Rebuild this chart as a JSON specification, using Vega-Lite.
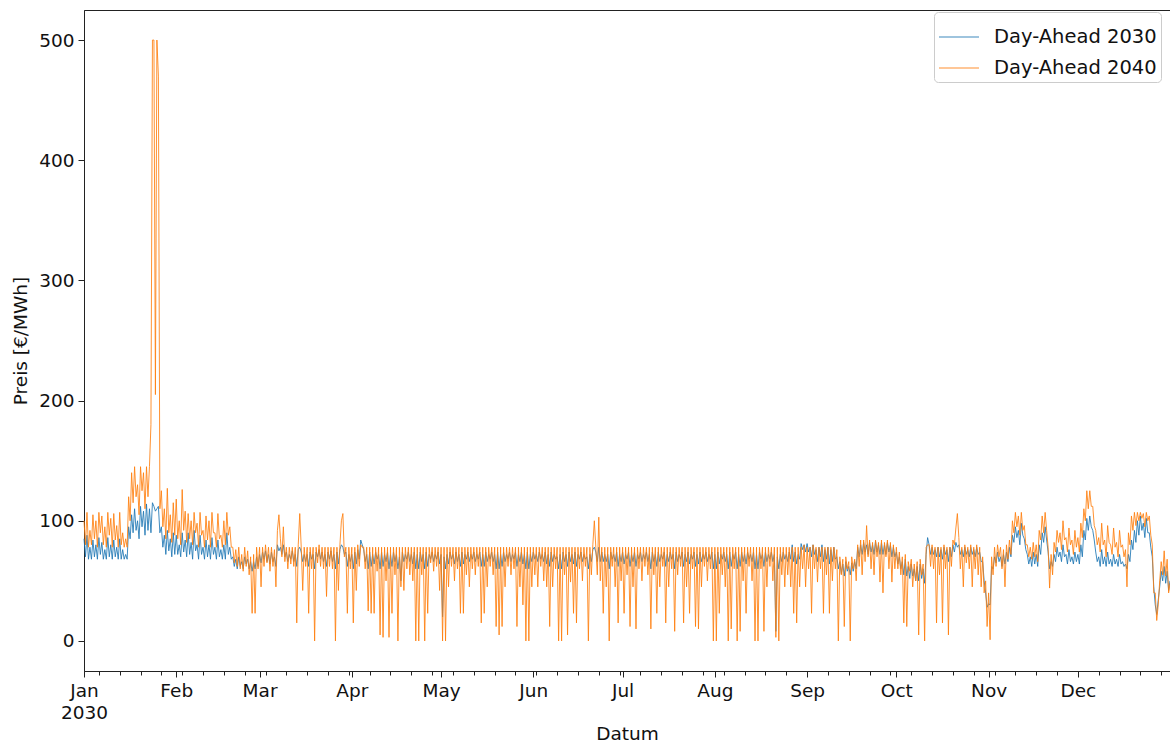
{
"$schema":"https://vega.github.io/schema/vega-lite/v6.json",
"width":1086,"height":661,"autosize":"none",
"padding":{"left":84,"top":10,"right":0,"bottom":74},
"background":"white",
"config":{"view":{"stroke":"#222","strokeWidth":1},"font":"DejaVu Sans",
"axis":{"labelFont":"DejaVu Sans","titleFont":"DejaVu Sans","labelFontSize":18.5,"titleFontSize":18.5,"titleFontWeight":"normal","labelColor":"#111","titleColor":"#111","domainColor":"#222","tickColor":"#222","tickSize":6,"grid":false}},
"data":{"format":{"parse":{"t":"date:'%Y-%m-%d %H'"}},"values":[
{"t":"2030-01-01 00","a":85,"b":100},{"t":"2030-01-01 12","a":70,"b":80},
{"t":"2030-01-02 00","a":88,"b":107},{"t":"2030-01-02 12","a":68,"b":78},
{"t":"2030-01-03 00","a":78,"b":92},{"t":"2030-01-03 12","a":68,"b":80},
{"t":"2030-01-04 00","a":84,"b":105},{"t":"2030-01-04 12","a":70,"b":85},
{"t":"2030-01-05 00","a":80,"b":100},{"t":"2030-01-05 12","a":68,"b":78},
{"t":"2030-01-06 00","a":86,"b":107},{"t":"2030-01-06 12","a":72,"b":90},
{"t":"2030-01-07 00","a":82,"b":104},{"t":"2030-01-07 12","a":68,"b":80},
{"t":"2030-01-08 00","a":76,"b":95},{"t":"2030-01-08 12","a":68,"b":78},
{"t":"2030-01-09 00","a":86,"b":107},{"t":"2030-01-09 12","a":70,"b":88},
{"t":"2030-01-10 00","a":80,"b":102},{"t":"2030-01-10 12","a":68,"b":78},
{"t":"2030-01-11 00","a":84,"b":106},{"t":"2030-01-11 12","a":70,"b":84},
{"t":"2030-01-12 00","a":78,"b":96},{"t":"2030-01-12 12","a":68,"b":78},
{"t":"2030-01-13 00","a":85,"b":107},{"t":"2030-01-13 12","a":68,"b":80},
{"t":"2030-01-14 00","a":76,"b":90},{"t":"2030-01-14 12","a":68,"b":78},
{"t":"2030-01-15 00","a":72,"b":85},{"t":"2030-01-15 12","a":68,"b":78},
{"t":"2030-01-16 00","a":95,"b":120},{"t":"2030-01-16 12","a":85,"b":100},
{"t":"2030-01-17 00","a":105,"b":140},{"t":"2030-01-17 12","a":90,"b":115},
{"t":"2030-01-18 00","a":110,"b":145},{"t":"2030-01-18 12","a":92,"b":120},
{"t":"2030-01-19 00","a":100,"b":130},{"t":"2030-01-19 12","a":85,"b":105},
{"t":"2030-01-20 00","a":112,"b":145},{"t":"2030-01-20 12","a":95,"b":125},
{"t":"2030-01-21 00","a":108,"b":140},{"t":"2030-01-21 12","a":88,"b":110},
{"t":"2030-01-22 00","a":114,"b":145},{"t":"2030-01-22 12","a":92,"b":120},
{"t":"2030-01-23 00","a":110,"b":145},{"t":"2030-01-23 12","a":90,"b":180},
{"t":"2030-01-24 00","a":115,"b":500},{"t":"2030-01-24 12","a":112,"b":500},
{"t":"2030-01-25 00","a":108,"b":205},{"t":"2030-01-25 12","a":110,"b":500},
{"t":"2030-01-26 00","a":112,"b":470},{"t":"2030-01-26 12","a":90,"b":110},
{"t":"2030-01-27 00","a":95,"b":125},{"t":"2030-01-27 12","a":78,"b":95},
{"t":"2030-01-28 00","a":88,"b":110},{"t":"2030-01-28 12","a":72,"b":85},
{"t":"2030-01-29 00","a":92,"b":127},{"t":"2030-01-29 12","a":75,"b":90},
{"t":"2030-01-30 00","a":85,"b":105},{"t":"2030-01-30 12","a":70,"b":82},
{"t":"2030-01-31 00","a":90,"b":115},{"t":"2030-01-31 12","a":72,"b":88},
{"t":"2030-02-01 00","a":88,"b":118},{"t":"2030-02-01 12","a":72,"b":85},
{"t":"2030-02-02 00","a":80,"b":100},{"t":"2030-02-02 12","a":70,"b":80},
{"t":"2030-02-03 00","a":90,"b":126},{"t":"2030-02-03 12","a":74,"b":92},
{"t":"2030-02-04 00","a":84,"b":108},{"t":"2030-02-04 12","a":70,"b":82},
{"t":"2030-02-05 00","a":90,"b":106},{"t":"2030-02-05 12","a":72,"b":85},
{"t":"2030-02-06 00","a":82,"b":100},{"t":"2030-02-06 12","a":68,"b":80},
{"t":"2030-02-07 00","a":92,"b":107},{"t":"2030-02-07 12","a":75,"b":90},
{"t":"2030-02-08 00","a":80,"b":98},{"t":"2030-02-08 12","a":68,"b":78},
{"t":"2030-02-09 00","a":88,"b":107},{"t":"2030-02-09 12","a":72,"b":88},
{"t":"2030-02-10 00","a":78,"b":92},{"t":"2030-02-10 12","a":68,"b":78},
{"t":"2030-02-11 00","a":84,"b":104},{"t":"2030-02-11 12","a":70,"b":84},
{"t":"2030-02-12 00","a":80,"b":100},{"t":"2030-02-12 12","a":68,"b":78},
{"t":"2030-02-13 00","a":86,"b":107},{"t":"2030-02-13 12","a":72,"b":90},
{"t":"2030-02-14 00","a":78,"b":90},{"t":"2030-02-14 12","a":68,"b":78},
{"t":"2030-02-15 00","a":84,"b":106},{"t":"2030-02-15 12","a":70,"b":85},
{"t":"2030-02-16 00","a":76,"b":88},{"t":"2030-02-16 12","a":68,"b":78},
{"t":"2030-02-17 00","a":80,"b":100},{"t":"2030-02-17 12","a":68,"b":80},
{"t":"2030-02-18 00","a":90,"b":107},{"t":"2030-02-18 12","a":72,"b":88},
{"t":"2030-02-19 00","a":78,"b":95},{"t":"2030-02-19 12","a":68,"b":78},
{"t":"2030-02-20 00","a":70,"b":78},{"t":"2030-02-20 12","a":62,"b":65},
{"t":"2030-02-21 00","a":68,"b":76},{"t":"2030-02-21 12","a":60,"b":62},
{"t":"2030-02-22 00","a":70,"b":78},{"t":"2030-02-22 12","a":62,"b":60},
{"t":"2030-02-23 00","a":66,"b":72},{"t":"2030-02-23 12","a":60,"b":58},
{"t":"2030-02-24 00","a":70,"b":78},{"t":"2030-02-24 12","a":64,"b":62},
{"t":"2030-02-25 00","a":68,"b":75},{"t":"2030-02-25 12","a":60,"b":55},
{"t":"2030-02-26 00","a":66,"b":70},{"t":"2030-02-26 12","a":58,"b":23},
{"t":"2030-02-27 00","a":66,"b":72},{"t":"2030-02-27 12","a":60,"b":23},
{"t":"2030-02-28 00","a":70,"b":78},{"t":"2030-02-28 12","a":62,"b":60},
{"t":"2030-03-01 00","a":72,"b":78},{"t":"2030-03-01 12","a":65,"b":45},
{"t":"2030-03-02 00","a":74,"b":78},{"t":"2030-03-02 12","a":68,"b":62},
{"t":"2030-03-03 00","a":75,"b":80},{"t":"2030-03-03 12","a":66,"b":65},
{"t":"2030-03-04 00","a":72,"b":78},{"t":"2030-03-04 12","a":64,"b":58},
{"t":"2030-03-05 00","a":74,"b":78},{"t":"2030-03-05 12","a":66,"b":62},
{"t":"2030-03-06 00","a":70,"b":76},{"t":"2030-03-06 12","a":62,"b":45},
{"t":"2030-03-07 00","a":80,"b":92},{"t":"2030-03-07 12","a":75,"b":105},
{"t":"2030-03-08 00","a":78,"b":85},{"t":"2030-03-08 12","a":72,"b":70},
{"t":"2030-03-09 00","a":80,"b":95},{"t":"2030-03-09 12","a":70,"b":66},
{"t":"2030-03-10 00","a":74,"b":78},{"t":"2030-03-10 12","a":66,"b":60},
{"t":"2030-03-11 00","a":72,"b":78},{"t":"2030-03-11 12","a":68,"b":64},
{"t":"2030-03-12 00","a":75,"b":78},{"t":"2030-03-12 12","a":66,"b":62},
{"t":"2030-03-13 00","a":72,"b":78},{"t":"2030-03-13 12","a":62,"b":15},
{"t":"2030-03-14 00","a":76,"b":80},{"t":"2030-03-14 12","a":78,"b":106},
{"t":"2030-03-15 00","a":74,"b":78},{"t":"2030-03-15 12","a":66,"b":42},
{"t":"2030-03-16 00","a":72,"b":78},{"t":"2030-03-16 12","a":66,"b":62},
{"t":"2030-03-17 00","a":72,"b":78},{"t":"2030-03-17 12","a":62,"b":23},
{"t":"2030-03-18 00","a":74,"b":78},{"t":"2030-03-18 12","a":68,"b":60},
{"t":"2030-03-19 00","a":72,"b":78},{"t":"2030-03-19 12","a":60,"b":0},
{"t":"2030-03-20 00","a":74,"b":78},{"t":"2030-03-20 12","a":70,"b":65},
{"t":"2030-03-21 00","a":76,"b":80},{"t":"2030-03-21 12","a":68,"b":62},
{"t":"2030-03-22 00","a":74,"b":78},{"t":"2030-03-22 12","a":66,"b":60},
{"t":"2030-03-23 00","a":72,"b":78},{"t":"2030-03-23 12","a":62,"b":37},
{"t":"2030-03-24 00","a":74,"b":78},{"t":"2030-03-24 12","a":68,"b":62},
{"t":"2030-03-25 00","a":75,"b":78},{"t":"2030-03-25 12","a":66,"b":60},
{"t":"2030-03-26 00","a":72,"b":78},{"t":"2030-03-26 12","a":60,"b":0},
{"t":"2030-03-27 00","a":74,"b":78},{"t":"2030-03-27 12","a":64,"b":42},
{"t":"2030-03-28 00","a":76,"b":80},{"t":"2030-03-28 12","a":80,"b":100},
{"t":"2030-03-29 00","a":78,"b":106},{"t":"2030-03-29 12","a":72,"b":70},
{"t":"2030-03-30 00","a":74,"b":78},{"t":"2030-03-30 12","a":62,"b":23},
{"t":"2030-03-31 00","a":72,"b":78},{"t":"2030-03-31 12","a":66,"b":60},
{"t":"2030-04-01 00","a":72,"b":78},{"t":"2030-04-01 12","a":60,"b":15},
{"t":"2030-04-02 00","a":74,"b":78},{"t":"2030-04-02 12","a":64,"b":42},
{"t":"2030-04-03 00","a":76,"b":80},{"t":"2030-04-03 12","a":68,"b":62},
{"t":"2030-04-04 00","a":84,"b":80},{"t":"2030-04-04 12","a":80,"b":78},
{"t":"2030-04-05 00","a":76,"b":78},{"t":"2030-04-05 12","a":66,"b":60},
{"t":"2030-04-06 00","a":72,"b":78},{"t":"2030-04-06 12","a":60,"b":25},
{"t":"2030-04-07 00","a":74,"b":78},{"t":"2030-04-07 12","a":62,"b":23},
{"t":"2030-04-08 00","a":72,"b":78},{"t":"2030-04-08 12","a":64,"b":23},
{"t":"2030-04-09 00","a":74,"b":78},{"t":"2030-04-09 12","a":68,"b":58},
{"t":"2030-04-10 00","a":72,"b":78},{"t":"2030-04-10 12","a":60,"b":5},
{"t":"2030-04-11 00","a":74,"b":78},{"t":"2030-04-11 12","a":62,"b":3},
{"t":"2030-04-12 00","a":72,"b":78},{"t":"2030-04-12 12","a":66,"b":50},
{"t":"2030-04-13 00","a":74,"b":78},{"t":"2030-04-13 12","a":60,"b":3},
{"t":"2030-04-14 00","a":72,"b":78},{"t":"2030-04-14 12","a":62,"b":23},
{"t":"2030-04-15 00","a":74,"b":78},{"t":"2030-04-15 12","a":66,"b":55},
{"t":"2030-04-16 00","a":72,"b":78},{"t":"2030-04-16 12","a":60,"b":0},
{"t":"2030-04-17 00","a":70,"b":78},{"t":"2030-04-17 12","a":50,"b":45},
{"t":"2030-04-18 00","a":74,"b":78},{"t":"2030-04-18 12","a":66,"b":42},
{"t":"2030-04-19 00","a":72,"b":78},{"t":"2030-04-19 12","a":68,"b":60},
{"t":"2030-04-20 00","a":74,"b":78},{"t":"2030-04-20 12","a":66,"b":55},
{"t":"2030-04-21 00","a":72,"b":78},{"t":"2030-04-21 12","a":64,"b":50},
{"t":"2030-04-22 00","a":74,"b":78},{"t":"2030-04-22 12","a":60,"b":0},
{"t":"2030-04-23 00","a":72,"b":78},{"t":"2030-04-23 12","a":60,"b":0},
{"t":"2030-04-24 00","a":74,"b":78},{"t":"2030-04-24 12","a":66,"b":55},
{"t":"2030-04-25 00","a":72,"b":78},{"t":"2030-04-25 12","a":60,"b":0},
{"t":"2030-04-26 00","a":74,"b":78},{"t":"2030-04-26 12","a":62,"b":23},
{"t":"2030-04-27 00","a":72,"b":78},{"t":"2030-04-27 12","a":68,"b":65},
{"t":"2030-04-28 00","a":74,"b":78},{"t":"2030-04-28 12","a":66,"b":58},
{"t":"2030-04-29 00","a":72,"b":78},{"t":"2030-04-29 12","a":68,"b":62},
{"t":"2030-04-30 00","a":74,"b":78},{"t":"2030-04-30 12","a":64,"b":42},
{"t":"2030-05-01 00","a":72,"b":78},{"t":"2030-05-01 12","a":20,"b":0},
{"t":"2030-05-02 00","a":70,"b":78},{"t":"2030-05-02 12","a":60,"b":0},
{"t":"2030-05-03 00","a":72,"b":78},{"t":"2030-05-03 12","a":64,"b":45},
{"t":"2030-05-04 00","a":74,"b":78},{"t":"2030-05-04 12","a":68,"b":62},
{"t":"2030-05-05 00","a":72,"b":78},{"t":"2030-05-05 12","a":64,"b":50},
{"t":"2030-05-06 00","a":74,"b":78},{"t":"2030-05-06 12","a":66,"b":60},
{"t":"2030-05-07 00","a":72,"b":78},{"t":"2030-05-07 12","a":62,"b":23},
{"t":"2030-05-08 00","a":74,"b":78},{"t":"2030-05-08 12","a":64,"b":23},
{"t":"2030-05-09 00","a":72,"b":78},{"t":"2030-05-09 12","a":68,"b":55},
{"t":"2030-05-10 00","a":74,"b":78},{"t":"2030-05-10 12","a":66,"b":45},
{"t":"2030-05-11 00","a":72,"b":78},{"t":"2030-05-11 12","a":68,"b":60},
{"t":"2030-05-12 00","a":74,"b":78},{"t":"2030-05-12 12","a":66,"b":55},
{"t":"2030-05-13 00","a":72,"b":78},{"t":"2030-05-13 12","a":68,"b":62},
{"t":"2030-05-14 00","a":74,"b":78},{"t":"2030-05-14 12","a":62,"b":15},
{"t":"2030-05-15 00","a":72,"b":78},{"t":"2030-05-15 12","a":62,"b":23},
{"t":"2030-05-16 00","a":74,"b":78},{"t":"2030-05-16 12","a":66,"b":45},
{"t":"2030-05-17 00","a":72,"b":78},{"t":"2030-05-17 12","a":68,"b":62},
{"t":"2030-05-18 00","a":74,"b":78},{"t":"2030-05-18 12","a":66,"b":55},
{"t":"2030-05-19 00","a":72,"b":78},{"t":"2030-05-19 12","a":60,"b":12},
{"t":"2030-05-20 00","a":74,"b":78},{"t":"2030-05-20 12","a":60,"b":5},
{"t":"2030-05-21 00","a":72,"b":78},{"t":"2030-05-21 12","a":62,"b":12},
{"t":"2030-05-22 00","a":74,"b":78},{"t":"2030-05-22 12","a":66,"b":45},
{"t":"2030-05-23 00","a":72,"b":78},{"t":"2030-05-23 12","a":68,"b":62},
{"t":"2030-05-24 00","a":74,"b":78},{"t":"2030-05-24 12","a":66,"b":55},
{"t":"2030-05-25 00","a":72,"b":78},{"t":"2030-05-25 12","a":68,"b":60},
{"t":"2030-05-26 00","a":74,"b":78},{"t":"2030-05-26 12","a":62,"b":12},
{"t":"2030-05-27 00","a":72,"b":78},{"t":"2030-05-27 12","a":66,"b":45},
{"t":"2030-05-28 00","a":74,"b":78},{"t":"2030-05-28 12","a":64,"b":30},
{"t":"2030-05-29 00","a":72,"b":78},{"t":"2030-05-29 12","a":60,"b":0},
{"t":"2030-05-30 00","a":74,"b":78},{"t":"2030-05-30 12","a":60,"b":0},
{"t":"2030-05-31 00","a":72,"b":78},{"t":"2030-05-31 12","a":66,"b":45},
{"t":"2030-06-01 00","a":74,"b":78},{"t":"2030-06-01 12","a":68,"b":55},
{"t":"2030-06-02 00","a":72,"b":78},{"t":"2030-06-02 12","a":66,"b":45},
{"t":"2030-06-03 00","a":74,"b":78},{"t":"2030-06-03 12","a":68,"b":62},
{"t":"2030-06-04 00","a":72,"b":78},{"t":"2030-06-04 12","a":66,"b":50},
{"t":"2030-06-05 00","a":74,"b":78},{"t":"2030-06-05 12","a":64,"b":45},
{"t":"2030-06-06 00","a":72,"b":78},{"t":"2030-06-06 12","a":62,"b":12},
{"t":"2030-06-07 00","a":74,"b":78},{"t":"2030-06-07 12","a":66,"b":45},
{"t":"2030-06-08 00","a":72,"b":78},{"t":"2030-06-08 12","a":68,"b":60},
{"t":"2030-06-09 00","a":70,"b":78},{"t":"2030-06-09 12","a":60,"b":0},
{"t":"2030-06-10 00","a":72,"b":78},{"t":"2030-06-10 12","a":60,"b":0},
{"t":"2030-06-11 00","a":74,"b":78},{"t":"2030-06-11 12","a":66,"b":55},
{"t":"2030-06-12 00","a":72,"b":78},{"t":"2030-06-12 12","a":62,"b":5},
{"t":"2030-06-13 00","a":74,"b":78},{"t":"2030-06-13 12","a":66,"b":49},
{"t":"2030-06-14 00","a":72,"b":78},{"t":"2030-06-14 12","a":64,"b":23},
{"t":"2030-06-15 00","a":74,"b":78},{"t":"2030-06-15 12","a":62,"b":15},
{"t":"2030-06-16 00","a":72,"b":78},{"t":"2030-06-16 12","a":68,"b":60},
{"t":"2030-06-17 00","a":74,"b":78},{"t":"2030-06-17 12","a":66,"b":50},
{"t":"2030-06-18 00","a":72,"b":78},{"t":"2030-06-18 12","a":68,"b":62},
{"t":"2030-06-19 00","a":70,"b":78},{"t":"2030-06-19 12","a":60,"b":0},
{"t":"2030-06-20 00","a":72,"b":78},{"t":"2030-06-20 12","a":66,"b":55},
{"t":"2030-06-21 00","a":76,"b":80},{"t":"2030-06-21 12","a":78,"b":100},
{"t":"2030-06-22 00","a":74,"b":78},{"t":"2030-06-22 12","a":66,"b":55},
{"t":"2030-06-23 00","a":78,"b":103},{"t":"2030-06-23 12","a":66,"b":50},
{"t":"2030-06-24 00","a":74,"b":78},{"t":"2030-06-24 12","a":66,"b":23},
{"t":"2030-06-25 00","a":72,"b":78},{"t":"2030-06-25 12","a":66,"b":45},
{"t":"2030-06-26 00","a":72,"b":78},{"t":"2030-06-26 12","a":60,"b":0},
{"t":"2030-06-27 00","a":74,"b":78},{"t":"2030-06-27 12","a":68,"b":62},
{"t":"2030-06-28 00","a":72,"b":78},{"t":"2030-06-28 12","a":66,"b":45},
{"t":"2030-06-29 00","a":74,"b":78},{"t":"2030-06-29 12","a":62,"b":15},
{"t":"2030-06-30 00","a":72,"b":78},{"t":"2030-06-30 12","a":66,"b":50},
{"t":"2030-07-01 00","a":74,"b":78},{"t":"2030-07-01 12","a":64,"b":23},
{"t":"2030-07-02 00","a":72,"b":78},{"t":"2030-07-02 12","a":68,"b":55},
{"t":"2030-07-03 00","a":74,"b":78},{"t":"2030-07-03 12","a":62,"b":12},
{"t":"2030-07-04 00","a":72,"b":78},{"t":"2030-07-04 12","a":66,"b":45},
{"t":"2030-07-05 00","a":74,"b":78},{"t":"2030-07-05 12","a":62,"b":10},
{"t":"2030-07-06 00","a":72,"b":78},{"t":"2030-07-06 12","a":68,"b":60},
{"t":"2030-07-07 00","a":74,"b":78},{"t":"2030-07-07 12","a":66,"b":50},
{"t":"2030-07-08 00","a":72,"b":78},{"t":"2030-07-08 12","a":68,"b":62},
{"t":"2030-07-09 00","a":74,"b":78},{"t":"2030-07-09 12","a":66,"b":55},
{"t":"2030-07-10 00","a":72,"b":78},{"t":"2030-07-10 12","a":60,"b":10},
{"t":"2030-07-11 00","a":74,"b":78},{"t":"2030-07-11 12","a":66,"b":55},
{"t":"2030-07-12 00","a":72,"b":78},{"t":"2030-07-12 12","a":62,"b":23},
{"t":"2030-07-13 00","a":74,"b":78},{"t":"2030-07-13 12","a":66,"b":45},
{"t":"2030-07-14 00","a":72,"b":78},{"t":"2030-07-14 12","a":68,"b":62},
{"t":"2030-07-15 00","a":74,"b":78},{"t":"2030-07-15 12","a":62,"b":15},
{"t":"2030-07-16 00","a":72,"b":78},{"t":"2030-07-16 12","a":66,"b":45},
{"t":"2030-07-17 00","a":74,"b":78},{"t":"2030-07-17 12","a":68,"b":60},
{"t":"2030-07-18 00","a":72,"b":78},{"t":"2030-07-18 12","a":60,"b":8},
{"t":"2030-07-19 00","a":74,"b":78},{"t":"2030-07-19 12","a":66,"b":55},
{"t":"2030-07-20 00","a":72,"b":78},{"t":"2030-07-20 12","a":68,"b":62},
{"t":"2030-07-21 00","a":74,"b":78},{"t":"2030-07-21 12","a":62,"b":15},
{"t":"2030-07-22 00","a":72,"b":78},{"t":"2030-07-22 12","a":66,"b":45},
{"t":"2030-07-23 00","a":74,"b":78},{"t":"2030-07-23 12","a":64,"b":23},
{"t":"2030-07-24 00","a":72,"b":78},{"t":"2030-07-24 12","a":68,"b":60},
{"t":"2030-07-25 00","a":74,"b":78},{"t":"2030-07-25 12","a":62,"b":12},
{"t":"2030-07-26 00","a":72,"b":78},{"t":"2030-07-26 12","a":64,"b":10},
{"t":"2030-07-27 00","a":74,"b":78},{"t":"2030-07-27 12","a":66,"b":45},
{"t":"2030-07-28 00","a":72,"b":78},{"t":"2030-07-28 12","a":68,"b":62},
{"t":"2030-07-29 00","a":74,"b":78},{"t":"2030-07-29 12","a":66,"b":50},
{"t":"2030-07-30 00","a":72,"b":78},{"t":"2030-07-30 12","a":68,"b":60},
{"t":"2030-07-31 00","a":74,"b":78},{"t":"2030-07-31 12","a":60,"b":0},
{"t":"2030-08-01 00","a":72,"b":78},{"t":"2030-08-01 12","a":60,"b":0},
{"t":"2030-08-02 00","a":74,"b":78},{"t":"2030-08-02 12","a":64,"b":23},
{"t":"2030-08-03 00","a":72,"b":78},{"t":"2030-08-03 12","a":68,"b":55},
{"t":"2030-08-04 00","a":74,"b":78},{"t":"2030-08-04 12","a":66,"b":45},
{"t":"2030-08-05 00","a":72,"b":78},{"t":"2030-08-05 12","a":60,"b":0},
{"t":"2030-08-06 00","a":74,"b":78},{"t":"2030-08-06 12","a":62,"b":10},
{"t":"2030-08-07 00","a":72,"b":78},{"t":"2030-08-07 12","a":68,"b":60},
{"t":"2030-08-08 00","a":74,"b":78},{"t":"2030-08-08 12","a":60,"b":0},
{"t":"2030-08-09 00","a":72,"b":78},{"t":"2030-08-09 12","a":62,"b":8},
{"t":"2030-08-10 00","a":74,"b":78},{"t":"2030-08-10 12","a":66,"b":50},
{"t":"2030-08-11 00","a":72,"b":78},{"t":"2030-08-11 12","a":64,"b":23},
{"t":"2030-08-12 00","a":74,"b":78},{"t":"2030-08-12 12","a":68,"b":62},
{"t":"2030-08-13 00","a":72,"b":78},{"t":"2030-08-13 12","a":66,"b":50},
{"t":"2030-08-14 00","a":74,"b":78},{"t":"2030-08-14 12","a":60,"b":0},
{"t":"2030-08-15 00","a":72,"b":78},{"t":"2030-08-15 12","a":60,"b":0},
{"t":"2030-08-16 00","a":74,"b":78},{"t":"2030-08-16 12","a":68,"b":60},
{"t":"2030-08-17 00","a":72,"b":78},{"t":"2030-08-17 12","a":62,"b":8},
{"t":"2030-08-18 00","a":74,"b":78},{"t":"2030-08-18 12","a":66,"b":45},
{"t":"2030-08-19 00","a":72,"b":78},{"t":"2030-08-19 12","a":68,"b":62},
{"t":"2030-08-20 00","a":74,"b":78},{"t":"2030-08-20 12","a":66,"b":50},
{"t":"2030-08-21 00","a":72,"b":78},{"t":"2030-08-21 12","a":8,"b":3},
{"t":"2030-08-22 00","a":70,"b":78},{"t":"2030-08-22 12","a":60,"b":0},
{"t":"2030-08-23 00","a":72,"b":78},{"t":"2030-08-23 12","a":66,"b":55},
{"t":"2030-08-24 00","a":74,"b":78},{"t":"2030-08-24 12","a":68,"b":45},
{"t":"2030-08-25 00","a":72,"b":78},{"t":"2030-08-25 12","a":66,"b":55},
{"t":"2030-08-26 00","a":74,"b":78},{"t":"2030-08-26 12","a":68,"b":45},
{"t":"2030-08-27 00","a":80,"b":78},{"t":"2030-08-27 12","a":66,"b":23},
{"t":"2030-08-28 00","a":74,"b":78},{"t":"2030-08-28 12","a":64,"b":15},
{"t":"2030-08-29 00","a":72,"b":78},{"t":"2030-08-29 12","a":68,"b":45},
{"t":"2030-08-30 00","a":81,"b":78},{"t":"2030-08-30 12","a":76,"b":60},
{"t":"2030-08-31 00","a":80,"b":80},{"t":"2030-08-31 12","a":74,"b":45},
{"t":"2030-09-01 00","a":81,"b":78},{"t":"2030-09-01 12","a":74,"b":60},
{"t":"2030-09-02 00","a":78,"b":78},{"t":"2030-09-02 12","a":70,"b":23},
{"t":"2030-09-03 00","a":80,"b":80},{"t":"2030-09-03 12","a":72,"b":60},
{"t":"2030-09-04 00","a":76,"b":78},{"t":"2030-09-04 12","a":66,"b":49},
{"t":"2030-09-05 00","a":78,"b":78},{"t":"2030-09-05 12","a":70,"b":60},
{"t":"2030-09-06 00","a":80,"b":78},{"t":"2030-09-06 12","a":66,"b":23},
{"t":"2030-09-07 00","a":76,"b":78},{"t":"2030-09-07 12","a":68,"b":55},
{"t":"2030-09-08 00","a":78,"b":78},{"t":"2030-09-08 12","a":64,"b":23},
{"t":"2030-09-09 00","a":76,"b":78},{"t":"2030-09-09 12","a":66,"b":50},
{"t":"2030-09-10 00","a":78,"b":78},{"t":"2030-09-10 12","a":68,"b":60},
{"t":"2030-09-11 00","a":70,"b":76},{"t":"2030-09-11 12","a":60,"b":0},
{"t":"2030-09-12 00","a":66,"b":70},{"t":"2030-09-12 12","a":56,"b":55},
{"t":"2030-09-13 00","a":64,"b":68},{"t":"2030-09-13 12","a":54,"b":12},
{"t":"2030-09-14 00","a":66,"b":70},{"t":"2030-09-14 12","a":58,"b":60},
{"t":"2030-09-15 00","a":62,"b":66},{"t":"2030-09-15 12","a":55,"b":0},
{"t":"2030-09-16 00","a":65,"b":70},{"t":"2030-09-16 12","a":58,"b":60},
{"t":"2030-09-17 00","a":66,"b":68},{"t":"2030-09-17 12","a":60,"b":50},
{"t":"2030-09-18 00","a":78,"b":80},{"t":"2030-09-18 12","a":70,"b":62},
{"t":"2030-09-19 00","a":80,"b":84},{"t":"2030-09-19 12","a":72,"b":55},
{"t":"2030-09-20 00","a":82,"b":84},{"t":"2030-09-20 12","a":74,"b":66},
{"t":"2030-09-21 00","a":80,"b":96},{"t":"2030-09-21 12","a":72,"b":70},
{"t":"2030-09-22 00","a":82,"b":84},{"t":"2030-09-22 12","a":74,"b":60},
{"t":"2030-09-23 00","a":80,"b":82},{"t":"2030-09-23 12","a":72,"b":55},
{"t":"2030-09-24 00","a":83,"b":84},{"t":"2030-09-24 12","a":74,"b":70},
{"t":"2030-09-25 00","a":80,"b":82},{"t":"2030-09-25 12","a":72,"b":49},
{"t":"2030-09-26 00","a":82,"b":84},{"t":"2030-09-26 12","a":72,"b":40},
{"t":"2030-09-27 00","a":80,"b":82},{"t":"2030-09-27 12","a":72,"b":70},
{"t":"2030-09-28 00","a":82,"b":84},{"t":"2030-09-28 12","a":74,"b":60},
{"t":"2030-09-29 00","a":80,"b":82},{"t":"2030-09-29 12","a":70,"b":49},
{"t":"2030-09-30 00","a":78,"b":80},{"t":"2030-09-30 12","a":70,"b":60},
{"t":"2030-10-01 00","a":74,"b":78},{"t":"2030-10-01 12","a":64,"b":60},
{"t":"2030-10-02 00","a":70,"b":74},{"t":"2030-10-02 12","a":60,"b":55},
{"t":"2030-10-03 00","a":66,"b":70},{"t":"2030-10-03 12","a":55,"b":15},
{"t":"2030-10-04 00","a":68,"b":72},{"t":"2030-10-04 12","a":54,"b":12},
{"t":"2030-10-05 00","a":62,"b":66},{"t":"2030-10-05 12","a":52,"b":58},
{"t":"2030-10-06 00","a":64,"b":68},{"t":"2030-10-06 12","a":54,"b":45},
{"t":"2030-10-07 00","a":60,"b":64},{"t":"2030-10-07 12","a":50,"b":50},
{"t":"2030-10-08 00","a":62,"b":66},{"t":"2030-10-08 12","a":50,"b":5},
{"t":"2030-10-09 00","a":64,"b":68},{"t":"2030-10-09 12","a":52,"b":55},
{"t":"2030-10-10 00","a":60,"b":64},{"t":"2030-10-10 12","a":48,"b":0},
{"t":"2030-10-11 00","a":72,"b":78},{"t":"2030-10-11 12","a":86,"b":80},
{"t":"2030-10-12 00","a":80,"b":80},{"t":"2030-10-12 12","a":72,"b":62},
{"t":"2030-10-13 00","a":78,"b":80},{"t":"2030-10-13 12","a":72,"b":60},
{"t":"2030-10-14 00","a":76,"b":78},{"t":"2030-10-14 12","a":70,"b":15},
{"t":"2030-10-15 00","a":78,"b":78},{"t":"2030-10-15 12","a":70,"b":55},
{"t":"2030-10-16 00","a":76,"b":78},{"t":"2030-10-16 12","a":68,"b":15},
{"t":"2030-10-17 00","a":78,"b":80},{"t":"2030-10-17 12","a":72,"b":60},
{"t":"2030-10-18 00","a":76,"b":78},{"t":"2030-10-18 12","a":66,"b":5},
{"t":"2030-10-19 00","a":78,"b":78},{"t":"2030-10-19 12","a":70,"b":62},
{"t":"2030-10-20 00","a":80,"b":84},{"t":"2030-10-20 12","a":74,"b":80},
{"t":"2030-10-21 00","a":82,"b":94},{"t":"2030-10-21 12","a":78,"b":106},
{"t":"2030-10-22 00","a":80,"b":86},{"t":"2030-10-22 12","a":72,"b":60},
{"t":"2030-10-23 00","a":76,"b":78},{"t":"2030-10-23 12","a":70,"b":45},
{"t":"2030-10-24 00","a":78,"b":80},{"t":"2030-10-24 12","a":72,"b":65},
{"t":"2030-10-25 00","a":76,"b":78},{"t":"2030-10-25 12","a":70,"b":60},
{"t":"2030-10-26 00","a":78,"b":80},{"t":"2030-10-26 12","a":72,"b":45},
{"t":"2030-10-27 00","a":76,"b":78},{"t":"2030-10-27 12","a":70,"b":60},
{"t":"2030-10-28 00","a":78,"b":80},{"t":"2030-10-28 12","a":72,"b":55},
{"t":"2030-10-29 00","a":74,"b":78},{"t":"2030-10-29 12","a":66,"b":45},
{"t":"2030-10-30 00","a":66,"b":70},{"t":"2030-10-30 12","a":50,"b":40},
{"t":"2030-10-31 00","a":40,"b":50},{"t":"2030-10-31 12","a":28,"b":12},
{"t":"2030-11-01 00","a":31,"b":40},{"t":"2030-11-01 12","a":30,"b":1},
{"t":"2030-11-02 00","a":62,"b":70},{"t":"2030-11-02 12","a":60,"b":55},
{"t":"2030-11-03 00","a":70,"b":78},{"t":"2030-11-03 12","a":65,"b":62},
{"t":"2030-11-04 00","a":74,"b":80},{"t":"2030-11-04 12","a":66,"b":70},
{"t":"2030-11-05 00","a":70,"b":78},{"t":"2030-11-05 12","a":62,"b":60},
{"t":"2030-11-06 00","a":72,"b":76},{"t":"2030-11-06 12","a":64,"b":45},
{"t":"2030-11-07 00","a":74,"b":80},{"t":"2030-11-07 12","a":66,"b":68},
{"t":"2030-11-08 00","a":78,"b":84},{"t":"2030-11-08 12","a":70,"b":72},
{"t":"2030-11-09 00","a":88,"b":100},{"t":"2030-11-09 12","a":82,"b":90},
{"t":"2030-11-10 00","a":95,"b":107},{"t":"2030-11-10 12","a":86,"b":95},
{"t":"2030-11-11 00","a":92,"b":104},{"t":"2030-11-11 12","a":80,"b":88},
{"t":"2030-11-12 00","a":98,"b":107},{"t":"2030-11-12 12","a":88,"b":92},
{"t":"2030-11-13 00","a":85,"b":96},{"t":"2030-11-13 12","a":76,"b":80},
{"t":"2030-11-14 00","a":72,"b":80},{"t":"2030-11-14 12","a":64,"b":70},
{"t":"2030-11-15 00","a":70,"b":78},{"t":"2030-11-15 12","a":62,"b":68},
{"t":"2030-11-16 00","a":74,"b":82},{"t":"2030-11-16 12","a":64,"b":70},
{"t":"2030-11-17 00","a":72,"b":80},{"t":"2030-11-17 12","a":62,"b":66},
{"t":"2030-11-18 00","a":80,"b":92},{"t":"2030-11-18 12","a":72,"b":84},
{"t":"2030-11-19 00","a":90,"b":104},{"t":"2030-11-19 12","a":82,"b":90},
{"t":"2030-11-20 00","a":95,"b":107},{"t":"2030-11-20 12","a":84,"b":92},
{"t":"2030-11-21 00","a":74,"b":78},{"t":"2030-11-21 12","a":60,"b":44},
{"t":"2030-11-22 00","a":66,"b":72},{"t":"2030-11-22 12","a":62,"b":55},
{"t":"2030-11-23 00","a":72,"b":82},{"t":"2030-11-23 12","a":66,"b":74},
{"t":"2030-11-24 00","a":78,"b":92},{"t":"2030-11-24 12","a":70,"b":82},
{"t":"2030-11-25 00","a":74,"b":90},{"t":"2030-11-25 12","a":66,"b":76},
{"t":"2030-11-26 00","a":80,"b":100},{"t":"2030-11-26 12","a":70,"b":84},
{"t":"2030-11-27 00","a":72,"b":86},{"t":"2030-11-27 12","a":64,"b":74},
{"t":"2030-11-28 00","a":76,"b":94},{"t":"2030-11-28 12","a":66,"b":80},
{"t":"2030-11-29 00","a":70,"b":84},{"t":"2030-11-29 12","a":64,"b":72},
{"t":"2030-11-30 00","a":74,"b":92},{"t":"2030-11-30 12","a":66,"b":78},
{"t":"2030-12-01 00","a":72,"b":86},{"t":"2030-12-01 12","a":64,"b":74},
{"t":"2030-12-02 00","a":80,"b":98},{"t":"2030-12-02 12","a":70,"b":86},
{"t":"2030-12-03 00","a":92,"b":110},{"t":"2030-12-03 12","a":84,"b":100},
{"t":"2030-12-04 00","a":102,"b":125},{"t":"2030-12-04 12","a":92,"b":110},
{"t":"2030-12-05 00","a":104,"b":125},{"t":"2030-12-05 12","a":95,"b":112},
{"t":"2030-12-06 00","a":92,"b":112},{"t":"2030-12-06 12","a":84,"b":96},
{"t":"2030-12-07 00","a":74,"b":92},{"t":"2030-12-07 12","a":66,"b":80},
{"t":"2030-12-08 00","a":70,"b":86},{"t":"2030-12-08 12","a":62,"b":74},
{"t":"2030-12-09 00","a":76,"b":98},{"t":"2030-12-09 12","a":64,"b":80},
{"t":"2030-12-10 00","a":70,"b":84},{"t":"2030-12-10 12","a":62,"b":70},
{"t":"2030-12-11 00","a":74,"b":96},{"t":"2030-12-11 12","a":64,"b":82},
{"t":"2030-12-12 00","a":68,"b":80},{"t":"2030-12-12 12","a":62,"b":72},
{"t":"2030-12-13 00","a":72,"b":94},{"t":"2030-12-13 12","a":64,"b":78},
{"t":"2030-12-14 00","a":68,"b":82},{"t":"2030-12-14 12","a":62,"b":70},
{"t":"2030-12-15 00","a":72,"b":92},{"t":"2030-12-15 12","a":64,"b":78},
{"t":"2030-12-16 00","a":66,"b":80},{"t":"2030-12-16 12","a":62,"b":70},
{"t":"2030-12-17 00","a":64,"b":76},{"t":"2030-12-17 12","a":60,"b":45},
{"t":"2030-12-18 00","a":72,"b":90},{"t":"2030-12-18 12","a":66,"b":80},
{"t":"2030-12-19 00","a":84,"b":104},{"t":"2030-12-19 12","a":76,"b":92},
{"t":"2030-12-20 00","a":92,"b":107},{"t":"2030-12-20 12","a":82,"b":96},
{"t":"2030-12-21 00","a":100,"b":107},{"t":"2030-12-21 12","a":88,"b":100},
{"t":"2030-12-22 00","a":104,"b":107},{"t":"2030-12-22 12","a":92,"b":102},
{"t":"2030-12-23 00","a":98,"b":106},{"t":"2030-12-23 12","a":86,"b":95},
{"t":"2030-12-24 00","a":102,"b":107},{"t":"2030-12-24 12","a":90,"b":100},
{"t":"2030-12-25 00","a":90,"b":104},{"t":"2030-12-25 12","a":78,"b":88},
{"t":"2030-12-26 00","a":70,"b":80},{"t":"2030-12-26 12","a":45,"b":40},
{"t":"2030-12-27 00","a":30,"b":40},{"t":"2030-12-27 12","a":22,"b":17},
{"t":"2030-12-28 00","a":34,"b":30},{"t":"2030-12-28 12","a":45,"b":50},
{"t":"2030-12-29 00","a":58,"b":66},{"t":"2030-12-29 12","a":50,"b":55},
{"t":"2030-12-30 00","a":62,"b":75},{"t":"2030-12-30 12","a":48,"b":54},
{"t":"2030-12-31 00","a":58,"b":68},{"t":"2030-12-31 12","a":42,"b":40},
{"t":"2030-12-31 23","a":50,"b":48}
]},
"resolve":{"axis":{"x":"independent"}},
"layer":[
{"mark":{"type":"line","strokeWidth":1,"opacity":0.85,"interpolate":"linear"},
"encoding":{"x":{"field":"t","type":"temporal",
"scale":{"domain":[{"year":2030,"month":1,"date":1,"hours":0},{"year":2030,"month":12,"date":31,"hours":23}]},
"axis":{"title":"Datum","orient":"bottom","tickCount":{"interval":"month","step":1},"labelExpr":"month(datum.value)==0 ? ['Jan','2030'] : timeFormat(datum.value,'%b')","labelLineHeight":22,"labelPadding":4,"titlePadding":3,"labelFlush":false,"labelOverlap":false,"labelAlign":"center"}},
"y":{"field":"a","type":"quantitative","title":"Preis [€/MWh]","scale":{"domain":[-25,525],"nice":false,"zero":false},"axis":{"values":[0,100,200,300,400,500],"labelPadding":4,"titlePadding":8}},
"color":{"datum":"Day-Ahead 2030","type":"nominal","scale":{"domain":["Day-Ahead 2030","Day-Ahead 2040"],"range":["#1f77b4","#ff7f0e"]},
"legend":{"title":null,"orient":"none","legendX":850,"legendY":2,"symbolType":"stroke","symbolSize":1600,"symbolStrokeWidth":1.2,"symbolOpacity":0.55,"labelFontSize":19.5,"labelFont":"DejaVu Sans","labelColor":"#111","labelLimit":300,"labelOffset":14,"rowPadding":-4,"padding":4,"strokeColor":"#cccccc","fillColor":"white","cornerRadius":4}}}},
{"mark":{"type":"line","strokeWidth":1,"opacity":0.85,"interpolate":"linear"},
"encoding":{"x":{"field":"t","type":"temporal",
"axis":{"title":null,"orient":"bottom","tickCount":{"interval":"week","step":1},"labels":false,"domain":false,"tickSize":4,"grid":false}},
"y":{"field":"b","type":"quantitative","title":"Preis [€/MWh]"},
"color":{"datum":"Day-Ahead 2040","type":"nominal"}}}
]
}
